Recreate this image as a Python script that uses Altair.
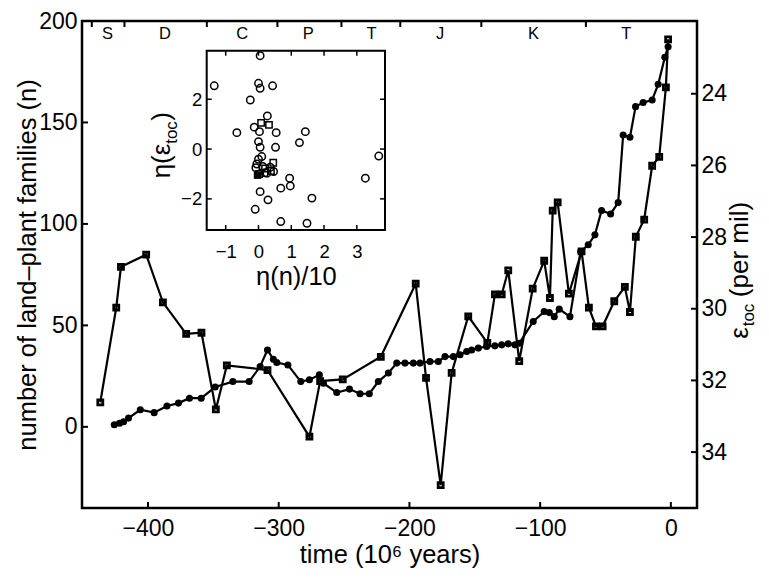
import altair as alt
import pandas as pd

W, H = 615, 487
FONT = "Liberation Sans"

# ---- land-plant families n (filled circles, left axis) ----
plant_time = [-425.8, -421.8, -418.7, -414.9, -405.9, -395.3, -385.5, -376.7, -368.3, -359.3,
              -348.6, -335.1, -322.6, -314.2, -308.6, -304.1, -301.5, -293.0, -283.1, -276.5,
              -268.9, -265.8, -255.6, -245.9, -237.8, -230.7, -223.8, -216.1, -209.7, -203.4,
              -197.0, -191.9, -184.3, -177.9, -172.8, -166.4, -161.3, -156.2, -152.4, -147.3,
              -140.9, -134.6, -129.4, -124.4, -119.3, -116.0, -105.3, -96.9, -93.0, -89.2,
              -85.4, -77.2, -69.0, -63.2, -58.1, -53.0, -46.1, -40.3, -36.5, -31.3,
              -27.0, -21.2, -14.3, -9.7, -4.6, -2.1]
plant_n = [1.0, 1.8, 2.5, 4.3, 8.4, 7.0, 10.3, 11.7, 14.1, 14.1,
           19.6, 22.3, 22.3, 29.7, 37.9, 33.3, 31.7, 30.5, 22.3, 23.2,
           25.6, 21.5, 16.9, 18.6, 16.3, 16.3, 22.3, 26.5, 31.4, 31.4,
           31.4, 31.4, 32.2, 32.2, 34.6, 34.6, 35.5, 37.1, 37.9, 38.8,
           39.6, 39.9, 40.4, 40.9, 40.4, 41.2, 51.9, 56.8, 56.3, 54.3,
           58.0, 54.3, 86.4, 89.7, 94.6, 106.6, 104.9, 110.5, 143.8, 142.7,
           157.8, 159.8, 161.1, 168.8, 182.1, 187.3]

# ---- epsilon_toc (squares, right axis, reversed) ----
eps_time = [-436.5, -424.3, -420.7, -401.4, -388.6, -370.8, -359.1, -348.1, -339.7, -308.6,
            -276.5, -268.3, -251.0, -221.9, -195.2, -187.3, -176.1, -167.7, -155.0, -140.4,
            -134.6, -129.4, -124.4, -116.0, -105.7, -96.9, -92.5, -90.4, -86.6, -78.0,
            -68.3, -62.7, -57.3, -52.2, -43.3, -35.2, -31.3, -26.8, -20.4, -14.3,
            -8.9, -3.8, -2.1]
eps_val = [32.61, 29.97, 28.83, 28.49, 29.82, 30.70, 30.67, 32.81, 31.58, 31.71,
           33.57, 32.02, 31.97, 31.34, 29.30, 31.93, 34.92, 31.79, 30.21, 30.95,
           29.60, 29.60, 28.93, 31.46, 29.44, 28.66, 29.70, 27.26, 27.03, 29.58,
           28.40, 29.97, 30.49, 30.49, 29.79, 29.39, 30.09, 27.99, 27.51, 26.01,
           25.76, 23.82, 22.48]

# ---- inset: eta(eps_toc) vs eta(n)/10 ----
inset_circ_x = [0.05, -1.35, 0.00, 0.05, 0.43, -0.25, 0.27, -0.66, -0.13, 0.03,
                0.54, 1.43, 1.25, 0.00, 0.05, 0.52, 0.00, 0.10, -0.05, 0.13,
                0.36, 0.46, 0.26, 3.26, 0.95, 0.97, 0.68, 0.05, 0.29, 1.63,
                -0.10, 0.68, 1.48, 3.67, -0.08, 0.20]
inset_circ_y = [3.75, 2.54, 2.64, 2.44, 2.54, 1.97, 1.33, 0.66, 0.88, 0.70,
                0.66, 0.70, 0.26, 0.30, 0.07, 0.07, -0.41, -0.30, -0.60, -0.70,
                -0.73, -0.90, -0.97, -1.17, -1.17, -1.48, -1.57, -1.71, -2.04, -1.97,
                -2.42, -2.91, -2.98, -0.28, -0.75, -0.95]
inset_sq_x = [0.08, 0.32, 0.45, 0.38, 0.20, 0.02]
inset_sq_y = [1.05, 0.97, -0.55, -0.88, -0.78, -1.00]
inset_fill_x = [-0.03]
inset_fill_y = [-1.05]

# ---- geologic periods ----
period_names = ["S", "D", "C", "P", "T", "J", "K", "T"]
period_centers = [-431, -387, -328, -277.5, -229, -176.5, -105, -34]
period_bounds = [-443, -418, -355, -301, -252, -207, -145, -65]

time_ticks = [-400, -300, -200, -100, 0]
n_ticks = [0, 50, 100, 150, 200]
eps_ticks = [24, 26, 28, 30, 32, 34]
inset_x_ticks = [-1, 0, 1, 2, 3]
inset_y_ticks = [-2, 0, 2]

time_domain = [-450.5, 20]
n_domain = [-40, 200]
eps_domain = [21.97, 35.56]
inset_x_domain = [-1.58, 3.86]
inset_y_domain = [-3.25, 3.95]
inset_x_range = [124.7, 303]
inset_y_range = [209, 29.7]

def ax(**kw):
    base = dict(ticks=False, domain=False, grid=False, labelFont=FONT, titleFont=FONT,
                labelColor="black", titleColor="black", titleFontWeight="normal")
    base.update(kw)
    return alt.Axis(**base)

xs = alt.Scale(domain=time_domain, nice=False, zero=False)
ys_n = alt.Scale(domain=n_domain, nice=False, zero=False)
ys_e = alt.Scale(domain=eps_domain, reverse=True, nice=False, zero=False)
xi = alt.Scale(domain=inset_x_domain, range=inset_x_range, nice=False, zero=False)
yi = alt.Scale(domain=inset_y_domain, range=inset_y_range, nice=False, zero=False)

layers = []

# ================= n series (left axis + bottom axis) =================
df_n = pd.DataFrame({"t": plant_time, "v": plant_n})
layers.append(alt.Chart(df_n).mark_line(color="black", strokeWidth=2.2).encode(
    x=alt.X("t:Q", scale=xs, axis=ax(orient="bottom", values=time_ticks, labelFontSize=23,
                                     labelPadding=9, title="time (10⁶ years)",
                                     titleFontSize=25.5, titlePadding=2)),
    y=alt.Y("v:Q", scale=ys_n, axis=ax(orient="left", values=n_ticks, labelFontSize=23,
                                       labelPadding=5,
                                       title="number of land–plant families (n)",
                                       titleFontSize=25.5, titlePadding=-2))))
layers.append(alt.Chart(df_n).mark_circle(color="black", size=50, opacity=1).encode(
    x=alt.X("t:Q", scale=xs, axis=None), y=alt.Y("v:Q", scale=ys_n, axis=None)))

# ================= eps series (right axis) =================
df_e = pd.DataFrame({"t": eps_time, "e": eps_val})
layers.append(alt.Chart(df_e).mark_line(color="black", strokeWidth=2.2).encode(
    x=alt.X("t:Q", scale=xs, axis=None),
    y=alt.Y("e:Q", scale=ys_e, axis=ax(orient="right", values=eps_ticks, labelFontSize=23,
                                       labelPadding=4, title=None))))
layers.append(alt.Chart(df_e).mark_point(shape="square", filled=False, color="black",
                                         strokeWidth=2.8, size=25, opacity=1).encode(
    x=alt.X("t:Q", scale=xs, axis=None), y=alt.Y("e:Q", scale=ys_e, axis=None)))

# ================= inward ticks of the main frame =================
layers.append(alt.Chart(pd.DataFrame({"t": time_ticks})).mark_rule(
    color="black", strokeWidth=2, y2Offset=-6).encode(
    x=alt.X("t:Q", scale=xs, axis=None),
    y=alt.datum(n_domain[0], scale=ys_n, axis=None), y2=alt.datum(n_domain[0])))
layers.append(alt.Chart(pd.DataFrame({"t": period_bounds})).mark_rule(
    color="black", strokeWidth=2, y2Offset=6).encode(
    x=alt.X("t:Q", scale=xs, axis=None),
    y=alt.datum(n_domain[1], scale=ys_n, axis=None), y2=alt.datum(n_domain[1])))
layers.append(alt.Chart(pd.DataFrame({"v": n_ticks})).mark_rule(
    color="black", strokeWidth=2, x2Offset=6).encode(
    y=alt.Y("v:Q", scale=ys_n, axis=None),
    x=alt.datum(time_domain[0], scale=xs, axis=None), x2=alt.datum(time_domain[0])))
layers.append(alt.Chart(pd.DataFrame({"e": eps_ticks})).mark_rule(
    color="black", strokeWidth=2, x2Offset=-6).encode(
    y=alt.Y("e:Q", scale=ys_e, axis=None),
    x=alt.datum(time_domain[1], scale=xs, axis=None), x2=alt.datum(time_domain[1])))
layers.append(alt.Chart(pd.DataFrame({"t": period_centers, "lab": period_names})).mark_text(
    font=FONT, fontSize=16.5, color="black", baseline="middle", dy=13).encode(
    x=alt.X("t:Q", scale=xs, axis=None),
    y=alt.datum(n_domain[1], scale=ys_n, axis=None), text="lab:N"))

# ================= inset =================
layers.append(alt.Chart(pd.DataFrame({"ix": [inset_x_domain[0]], "ix2": [inset_x_domain[1]],
                                      "iy": [inset_y_domain[0]], "iy2": [inset_y_domain[1]]})).mark_rect(
    fill="white", stroke="black", strokeWidth=2).encode(
    x=alt.X("ix:Q", scale=xi, axis=ax(orient="bottom", offset=-(H - inset_y_range[0]),
                                      values=inset_x_ticks, labelFontSize=18.5, labelPadding=12,
                                      title="η(n)/10", titleFontSize=25.5, titlePadding=4)),
    x2="ix2:Q",
    y=alt.Y("iy:Q", scale=yi, axis=ax(orient="left", offset=-inset_x_range[0],
                                      values=inset_y_ticks, labelFontSize=18.5, labelPadding=5,
                                      title=None)),
    y2="iy2:Q"))

df_ix = pd.DataFrame({"ix": inset_x_ticks})
df_iy = pd.DataFrame({"iy": inset_y_ticks})
layers.append(alt.Chart(df_ix).mark_rule(color="black", strokeWidth=1.5, y2Offset=-5).encode(
    x=alt.X("ix:Q", scale=xi, axis=None),
    y=alt.datum(inset_y_domain[0], scale=yi, axis=None), y2=alt.datum(inset_y_domain[0])))
layers.append(alt.Chart(df_ix).mark_rule(color="black", strokeWidth=1.5, y2Offset=5).encode(
    x=alt.X("ix:Q", scale=xi, axis=None),
    y=alt.datum(inset_y_domain[1], scale=yi, axis=None), y2=alt.datum(inset_y_domain[1])))
layers.append(alt.Chart(df_iy).mark_rule(color="black", strokeWidth=1.5, x2Offset=5).encode(
    y=alt.Y("iy:Q", scale=yi, axis=None),
    x=alt.datum(inset_x_domain[0], scale=xi, axis=None), x2=alt.datum(inset_x_domain[0])))
layers.append(alt.Chart(df_iy).mark_rule(color="black", strokeWidth=1.5, x2Offset=-5).encode(
    y=alt.Y("iy:Q", scale=yi, axis=None),
    x=alt.datum(inset_x_domain[1], scale=xi, axis=None), x2=alt.datum(inset_x_domain[1])))

layers.append(alt.Chart(pd.DataFrame({"ix": inset_circ_x, "iy": inset_circ_y})).mark_point(
    shape="circle", filled=False, color="black", strokeWidth=1.5, size=55, opacity=1).encode(
    x=alt.X("ix:Q", scale=xi, axis=None), y=alt.Y("iy:Q", scale=yi, axis=None)))
layers.append(alt.Chart(pd.DataFrame({"ix": inset_sq_x, "iy": inset_sq_y})).mark_point(
    shape="square", filled=False, color="black", strokeWidth=1.5, size=40, opacity=1).encode(
    x=alt.X("ix:Q", scale=xi, axis=None), y=alt.Y("iy:Q", scale=yi, axis=None)))
layers.append(alt.Chart(pd.DataFrame({"ix": inset_fill_x, "iy": inset_fill_y})).mark_point(
    shape="square", filled=True, color="black", size=55, opacity=1).encode(
    x=alt.X("ix:Q", scale=xi, axis=None), y=alt.Y("iy:Q", scale=yi, axis=None)))

# ================= titles with subscripts =================
one = pd.DataFrame({"s": [""]})
def label(txt, x, y, size, angle=270):
    return alt.Chart(one).mark_text(text=txt, x=x, y=y, angle=angle, font=FONT,
                                    fontSize=size, color="black", align="center",
                                    baseline="alphabetic")

layers += [
    label("ε", 666, 312, 26),
    label("toc", 672, 294, 17),
    label("(per mil)", 666, 228.5, 26),
    label("η(ε", 88, 140, 26),
    label("toc", 95, 111.5, 17),
    label(")", 88, 95.5, 26),
]

chart = alt.layer(*layers).resolve_scale(
    x="independent", y="independent"
).properties(
    width=W, height=H,
    autosize=alt.AutoSizeParams(type="none"),
    padding={"left": 74, "top": 13, "right": 60, "bottom": 62},
).configure_view(stroke="black", strokeWidth=2.5)

chart.save("out.html", embed_options={"renderer": "svg", "actions": False})
